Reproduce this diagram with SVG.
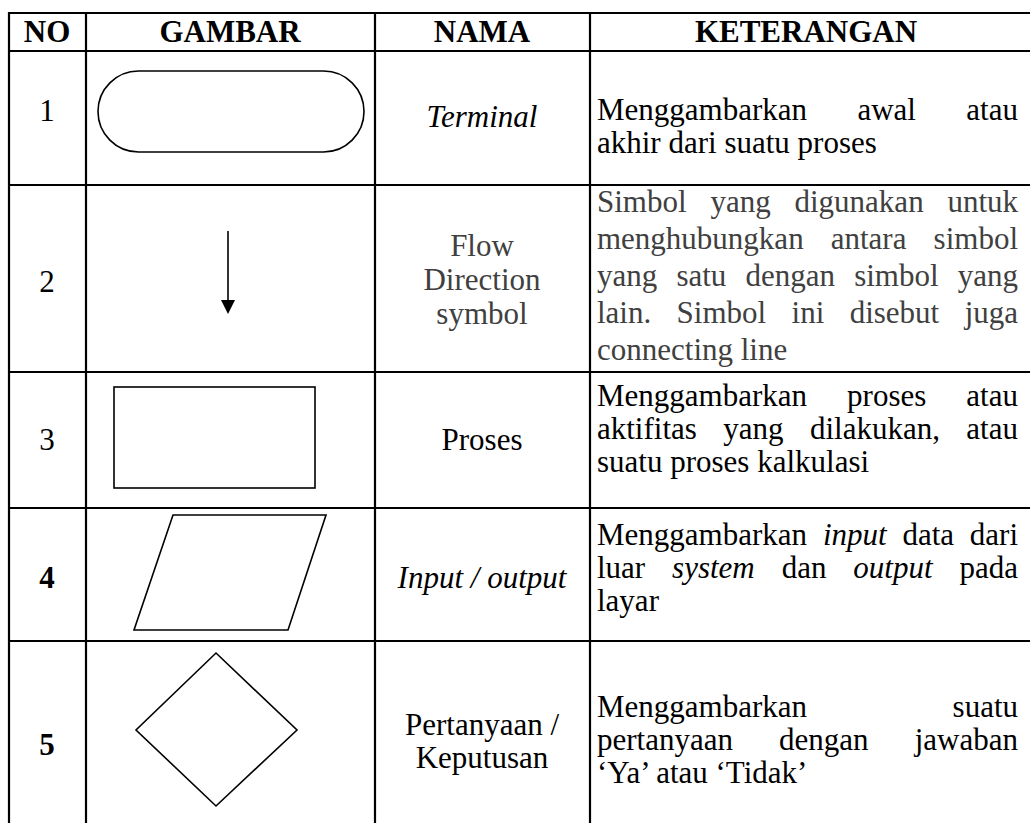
<svg xmlns="http://www.w3.org/2000/svg" width="1030" height="823" viewBox="0 0 1030 823">
<style>
.t{font-family:"Liberation Serif","Times New Roman",serif;font-size:31px;fill:#000}
.b{font-weight:bold}
.i{font-style:italic}
.c{text-anchor:middle}
.e{text-anchor:end}
.g{fill:#404040}
.grid{stroke:#000;stroke-width:2.2;fill:none}
.shape{stroke:#000;stroke-width:1.6;fill:#fff}
</style>
<rect width="1030" height="823" fill="#fff"/>
<g id="grid" class="grid">
<line x1="9" y1="12" x2="9" y2="823"/>
<line x1="86" y1="12" x2="86" y2="823"/>
<line x1="375" y1="12" x2="375" y2="823"/>
<line x1="590" y1="12" x2="590" y2="823"/>
<line x1="8" y1="13" x2="1030" y2="13"/>
<line x1="8" y1="51" x2="1030" y2="51"/>
<line x1="8" y1="185" x2="1030" y2="185"/>
<line x1="8" y1="372" x2="1030" y2="372"/>
<line x1="8" y1="508" x2="1030" y2="508"/>
<line x1="8" y1="641" x2="1030" y2="641"/>
</g>
<g id="header">
<text class="t b c" x="47" y="42">NO</text>
<text class="t b c" x="230" y="42">GAMBAR</text>
<text class="t b c" x="482" y="42">NAMA</text>
<text class="t b c" x="806" y="42">KETERANGAN</text>
</g>
<g id="row1">
<text class="t c" x="47" y="121">1</text>
<rect class="shape" x="98" y="71" width="266" height="81" rx="40.5" ry="40.5"/>
<text class="t i c" x="482" y="127">Terminal</text>
<text class="t" x="597" y="120">Menggambarkan</text>
<text class="t" x="857.4" y="120">awal</text>
<text class="t e" x="1018" y="120">atau</text>
<text class="t" x="597" y="153">akhir dari suatu proses</text>
</g>
<g id="row2">
<text class="t c" x="47" y="292">2</text>
<g id="connectors">
<line x1="228" y1="231" x2="228" y2="302" stroke="#000" stroke-width="1.6"/>
<polygon points="221,300 235,300 228,314" fill="#000"/>
</g>
<text class="t c g" x="482" y="256">Flow</text>
<text class="t c g" x="482" y="290">Direction</text>
<text class="t c g" x="482" y="324">symbol</text>
<text class="t g" x="597" y="212">Simbol</text>
<text class="t g" x="710.4" y="212">yang</text>
<text class="t g" x="794.5" y="212">digunakan</text>
<text class="t g e" x="1018" y="212">untuk</text>
<text class="t g" x="597" y="249">menghubungkan</text>
<text class="t g" x="830.7" y="249">antara</text>
<text class="t g e" x="1018" y="249">simbol</text>
<text class="t g" x="597" y="286">yang</text>
<text class="t g" x="676.4" y="286">satu</text>
<text class="t g" x="745.5" y="286">dengan</text>
<text class="t g" x="854.2" y="286">simbol</text>
<text class="t g e" x="1018" y="286">yang</text>
<text class="t g" x="597" y="323">lain.</text>
<text class="t g" x="676.6" y="323">Simbol</text>
<text class="t g" x="791.6" y="323">ini</text>
<text class="t g" x="849.7" y="323">disebut</text>
<text class="t g e" x="1018" y="323">juga</text>
<text class="t g" x="597" y="360">connecting line</text>
</g>
<g id="row3">
<text class="t c" x="47" y="450">3</text>
<rect class="shape" x="114" y="387" width="201" height="101"/>
<text class="t c" x="482" y="450">Proses</text>
<text class="t" x="597" y="406">Menggambarkan</text>
<text class="t" x="847.1" y="406">proses</text>
<text class="t e" x="1018" y="406">atau</text>
<text class="t" x="597" y="439">aktifitas</text>
<text class="t" x="723.3" y="439">yang</text>
<text class="t" x="810" y="439">dilakukan,</text>
<text class="t e" x="1018" y="439">atau</text>
<text class="t" x="597" y="472">suatu proses kalkulasi</text>
</g>
<g id="row4">
<text class="t b c" x="47" y="588">4</text>
<polygon class="shape" points="173,515 326,515 288,630 134,630"/>
<text class="t i c" x="482" y="588">Input / output</text>
<text class="t" x="597" y="545">Menggambarkan</text>
<text class="t i" x="822.9" y="545">input</text>
<text class="t" x="902.4" y="545">data</text>
<text class="t e" x="1018" y="545">dari</text>
<text class="t" x="597" y="578">luar</text>
<text class="t i" x="672.1" y="578">system</text>
<text class="t" x="781.7" y="578">dan</text>
<text class="t i" x="853.3" y="578">output</text>
<text class="t e" x="1018" y="578">pada</text>
<text class="t" x="597" y="611">layar</text>
</g>
<g id="row5">
<text class="t b c" x="47" y="755">5</text>
<polygon class="shape" points="216,653 297,730 216,806 136,730"/>
<text class="t c" x="482" y="735">Pertanyaan /</text>
<text class="t c" x="482" y="768">Keputusan</text>
<text class="t" x="597" y="717">Menggambarkan</text>
<text class="t e" x="1018" y="717">suatu</text>
<text class="t" x="597" y="750">pertanyaan</text>
<text class="t" x="779.1" y="750">dengan</text>
<text class="t e" x="1018" y="750">jawaban</text>
<text class="t" x="597" y="783">‘Ya’ atau ‘Tidak’</text>
</g>
</svg>
